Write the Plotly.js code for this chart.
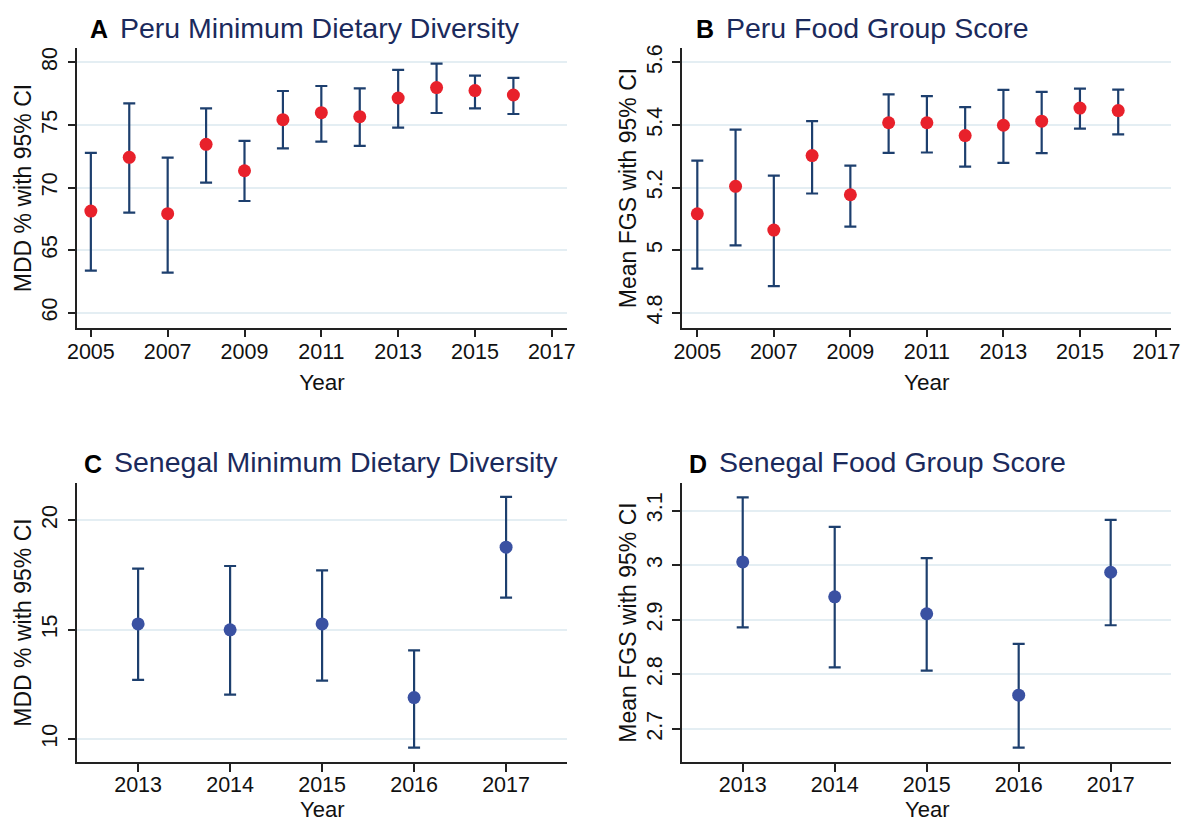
<!DOCTYPE html>
<html>
<head>
<meta charset="utf-8">
<script src="https://cdn.plot.ly/plotly-3.0.1.min.js"></script>
<style>
  html, body { margin: 0; padding: 0; background: #ffffff; }
  #chart { width: 1183px; height: 823px; }
</style>
</head>
<body>
<div id="chart"></div>
<script>
// ---- Peru (panels A and B) ----
const peruYears = [2005, 2006, 2007, 2008, 2009, 2010, 2011, 2012, 2013, 2014, 2015, 2016];

const peruMddMean  = [68.12, 72.41, 67.91, 73.45, 71.34, 75.42, 75.98, 75.66, 77.15, 77.98, 77.74, 77.39];
const peruMddLower = [63.36, 67.99, 63.20, 70.39, 68.92, 73.13, 73.66, 73.32, 74.78, 75.95, 76.32, 75.87];
const peruMddUpper = [72.76, 76.72, 72.38, 76.32, 73.72, 77.71, 78.11, 77.92, 79.39, 79.89, 78.93, 78.75];

const peruFgsMean  = [5.116, 5.204, 5.064, 5.302, 5.177, 5.407, 5.407, 5.366, 5.399, 5.412, 5.454, 5.446];
const peruFgsLower = [4.941, 5.015, 4.885, 5.181, 5.075, 5.311, 5.312, 5.267, 5.279, 5.310, 5.388, 5.370];
const peruFgsUpper = [5.286, 5.385, 5.238, 5.412, 5.270, 5.498, 5.492, 5.457, 5.512, 5.506, 5.516, 5.513];

// ---- Senegal (panels C and D) ----
const senegalYears = [2013, 2014, 2015, 2016, 2017];

const senMddMean  = [15.26, 14.99, 15.26, 11.89, 18.77];
const senMddLower = [12.70, 12.03, 12.67, 9.60, 16.46];
const senMddUpper = [17.79, 17.91, 17.71, 14.05, 21.07];

const senFgsMean  = [3.006, 2.942, 2.911, 2.762, 2.987];
const senFgsLower = [2.886, 2.813, 2.807, 2.666, 2.890];
const senFgsUpper = [3.124, 3.070, 3.013, 2.856, 3.083];

// ---- Tick values and labels ----
const peruYearTicks    = [2005, 2007, 2009, 2011, 2013, 2015, 2017];
const senegalYearTicks = [2013, 2014, 2015, 2016, 2017];
const peruMddTicks     = [60, 65, 70, 75, 80];
const peruFgsTicks     = [4.8, 5, 5.2, 5.4, 5.6];
const peruFgsTickText  = ['4.8', '5', '5.2', '5.4', '5.6'];
const senMddTicks      = [10, 15, 20];
const senFgsTicks      = [2.7, 2.8, 2.9, 3, 3.1];
const senFgsTickText   = ['2.7', '2.8', '2.9', '3', '3.1'];

// ---- Panel titles ----
const panelLetters = ['A', 'B', 'C', 'D'];
const panelTitles = [
  'Peru Minimum Dietary Diversity',
  'Peru Food Group Score',
  'Senegal Minimum Dietary Diversity',
  'Senegal Food Group Score'
];
const mddAxisTitle = 'MDD % with 95% CI';
const fgsAxisTitle = 'Mean FGS with 95% CI';
const yearAxisTitle = 'Year';

// ---- Styling ----
const W = 1183, H = 823;
const FONT = 'Liberation Sans, Arial, Helvetica, sans-serif';
const BAR_COLOR = '#1d3f6e';
const PERU_DOT = '#e8212b';
const SEN_DOT = '#3a51a2';
const TITLE_NAVY = '#1b2a5c';
const GRID = '#e4eef3';

const px = v => v / W;           // horizontal pixel -> paper fraction
const py = v => 1 - v / H;       // vertical pixel (from top) -> paper fraction

function ciTraces(x, mean, lower, upper, dotColor, xa, ya) {
  const plus = upper.map((u, i) => u - mean[i]);
  const minus = mean.map((m, i) => m - lower[i]);
  return [
    {
      type: 'scatter', mode: 'markers', x: x, y: mean, xaxis: xa, yaxis: ya,
      marker: { size: 1, opacity: 0 },
      error_y: { type: 'data', symmetric: false, array: plus, arrayminus: minus,
                 color: BAR_COLOR, thickness: 2.2, width: 6 },
      hoverinfo: 'skip', showlegend: false
    },
    {
      type: 'scatter', mode: 'markers', x: x, y: mean, xaxis: xa, yaxis: ya,
      marker: { size: 13, color: dotColor, line: { width: 0 } },
      showlegend: false
    }
  ];
}

const data = [].concat(
  ciTraces(peruYears, peruMddMean, peruMddLower, peruMddUpper, PERU_DOT, 'x', 'y'),
  ciTraces(peruYears, peruFgsMean, peruFgsLower, peruFgsUpper, PERU_DOT, 'x2', 'y2'),
  ciTraces(senegalYears, senMddMean, senMddLower, senMddUpper, SEN_DOT, 'x3', 'y3'),
  ciTraces(senegalYears, senFgsMean, senFgsLower, senFgsUpper, SEN_DOT, 'x4', 'y4')
);

const YEAR_FONT = { family: FONT, size: 22.5, color: '#111' };

function xAxis(domain, range, ticks, anchor, withTitle) {
  return {
    domain: domain, range: range, anchor: anchor,
    tickmode: 'array', tickvals: ticks, ticktext: ticks.map(String),
    ticks: 'outside', ticklen: 8, tickwidth: 1.5, tickcolor: '#222',
    ticklabelstandoff: withTitle ? -4 : -6,
    showline: true, linecolor: '#222', linewidth: 1.5,
    showgrid: false, zeroline: false,
    tickfont: { family: FONT, size: 21.5, color: '#111' },
    title: { text: withTitle ? yearAxisTitle : '', font: YEAR_FONT, standoff: 11 },
    automargin: false
  };
}

function yAxis(domain, range, ticks, text, title, anchor) {
  return {
    domain: domain, range: range, anchor: anchor,
    tickmode: 'array', tickvals: ticks, ticktext: text,
    tickangle: -90,
    ticks: 'outside', ticklen: 8, tickwidth: 1.5, tickcolor: '#222',
    ticklabelstandoff: 2,
    showline: true, linecolor: '#222', linewidth: 1.5,
    showgrid: true, gridcolor: GRID, gridwidth: 1.5,
    zeroline: false,
    tickfont: { family: FONT, size: 21.5, color: '#111' },
    title: { text: title, font: { family: FONT, size: 23, color: '#111' }, standoff: 0 },
    automargin: false
  };
}

const leftCol  = [px(77.4), px(566.8)];
const rightCol = [px(682), px(1171.4)];
const topRow   = [py(327.7), py(48.3)];
const botRow   = [py(762.3), py(482.7)];

// Title placements: letter x, title text x, centre line y
const titlePos = [
  { lx: 90,    tx: 119.3, y: 28 },
  { lx: 696,   tx: 725.6, y: 28 },
  { lx: 84,    tx: 113.2, y: 462.4 },
  { lx: 688.5, tx: 718.8, y: 462.4 }
];

const annotations = [];
titlePos.forEach((p, i) => {
  annotations.push({
    xref: 'paper', yref: 'paper', x: px(p.lx - 2), y: py(p.y + 1.5),
    xanchor: 'left', yanchor: 'middle', showarrow: false,
    text: '<b>' + panelLetters[i] + '</b>',
    font: { family: FONT, size: 25, color: '#000' }
  });
  annotations.push({
    xref: 'paper', yref: 'paper', x: px(p.tx - 1.5), y: py(p.y),
    xanchor: 'left', yanchor: 'middle', showarrow: false,
    text: panelTitles[i],
    font: { family: FONT, size: 28.5, color: TITLE_NAVY }
  });
});

// The lower row's "Year" titles sit right at the bottom edge of the page
[leftCol, rightCol].forEach(col => {
  annotations.push({
    xref: 'paper', yref: 'paper', x: (col[0] + col[1]) / 2, y: 0,
    xanchor: 'center', yanchor: 'bottom', showarrow: false, borderpad: 0,
    text: yearAxisTitle, font: { family: FONT, size: 22, color: '#111' }
  });
});

const layout = {
  width: W, height: H,
  margin: { l: 0, r: 0, t: 0, b: 0 },
  paper_bgcolor: '#ffffff', plot_bgcolor: '#ffffff',
  showlegend: false,
  xaxis:  xAxis(leftCol,  [2004.65, 2017.39], peruYearTicks, 'y', true),
  yaxis:  yAxis(topRow, [58.80, 81.12], peruMddTicks, peruMddTicks.map(String), mddAxisTitle, 'x'),
  xaxis2: xAxis(rightCol, [2004.60, 2017.39], peruYearTicks, 'y2', true),
  yaxis2: yAxis(topRow, [4.752, 5.645], peruFgsTicks, peruFgsTickText, fgsAxisTitle, 'x2'),
  xaxis3: xAxis(leftCol,  [2012.34, 2017.66], senegalYearTicks, 'y3', false),
  yaxis3: yAxis(botRow, [8.93, 21.72], senMddTicks, senMddTicks.map(String), mddAxisTitle, 'x3'),
  xaxis4: xAxis(rightCol, [2012.34, 2017.66], senegalYearTicks, 'y4', false),
  yaxis4: yAxis(botRow, [2.639, 3.151], senFgsTicks, senFgsTickText, fgsAxisTitle, 'x4'),
  annotations: annotations
};

Plotly.newPlot('chart', data, layout, { displayModeBar: false, responsive: false });
</script>
</body>
</html>
